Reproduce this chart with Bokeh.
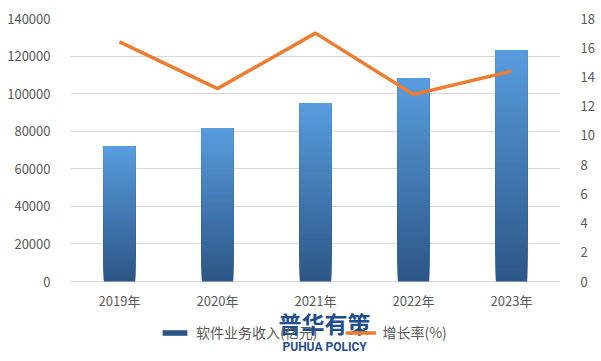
from bokeh.plotting import figure
from bokeh.models import (Range1d, LinearAxis, Legend, LegendItem, Label, FixedTicker,
                          ColumnDataSource, NumeralTickFormatter)
from bokeh.embed import file_html
from bokeh.resources import INLINE

years = ["2019年", "2020年", "2021年", "2022年", "2023年"]
revenue = [71768, 81616, 94994, 108126, 123258]
growth = [16.4, 13.2, 17.0, 12.8, 14.4]
left_ticks = [0, 20000, 40000, 60000, 80000, 100000, 120000, 140000]
right_ticks = [0, 2, 4, 6, 8, 10, 12, 14, 16, 18]

FONT = "Noto Sans CJK SC"
TICK_COLOR = "#595959"

# layout: plot body 263px tall for the value span, 72px of room below the zero line
BODY_PX = 263
BELOW_PX = 72
lmax = left_ticks[-1]
rmax = right_ticks[-1]

p = figure(frame_width=490, frame_height=BODY_PX + BELOW_PX, x_range=years,
           y_range=Range1d(-lmax * BELOW_PX / BODY_PX, lmax),
           x_axis_location=None,
           output_backend="svg", toolbar_location=None,
           min_border_left=70, min_border_right=41, min_border_top=18, min_border_bottom=8)
p.extra_y_ranges = {"rate": Range1d(-rmax * BELOW_PX / BODY_PX, rmax)}
p.outline_line_color = None
p.background_fill_color = "white"
p.border_fill_color = "white"

# gradient bars: overlapping slices, each from its start up to the bar top,
# drawn bottom-first so each later (lighter) slice covers the one beneath
N = 90
top_rgb = (88, 156, 222)
bot_rgb = (44, 86, 134)
xs, bots, tops, cols = [], [], [], []
for i in range(N):
    f = i / (N - 1)
    r = round(bot_rgb[0] + (top_rgb[0] - bot_rgb[0]) * f)
    g = round(bot_rgb[1] + (top_rgb[1] - bot_rgb[1]) * f)
    b = round(bot_rgb[2] + (top_rgb[2] - bot_rgb[2]) * f)
    for y, v in zip(years, revenue):
        xs.append(y)
        bots.append(v * i / N)
        tops.append(v)
        cols.append("#%02x%02x%02x" % (r, g, b))
src = ColumnDataSource(dict(x=xs, bottom=bots, top=tops, color=cols))
bars = p.vbar(x="x", bottom="bottom", top="top", width=0.32, fill_color="color",
              line_color=None, source=src)

line = p.line(years, growth, line_color="#ED7D31", line_width=3.5, y_range_name="rate")

# category labels under the zero line
p.text(x=years, y=[0] * len(years), text=years, y_offset=19,
       text_align="center", text_baseline="middle",
       text_font={"value": FONT}, text_font_size="13px", text_color=TICK_COLOR)

# axes
p.yaxis.ticker = FixedTicker(ticks=left_ticks)
p.yaxis.formatter = NumeralTickFormatter(format="0")
p.yaxis.axis_line_color = None
p.yaxis.major_tick_line_color = None
p.yaxis.minor_tick_line_color = None
p.yaxis.major_label_text_color = TICK_COLOR
p.yaxis.major_label_text_font = FONT
p.yaxis.major_label_text_font_size = "13px"
p.yaxis.major_label_standoff = 14

right = LinearAxis(y_range_name="rate", ticker=FixedTicker(ticks=right_ticks))
right.axis_line_color = None
right.major_tick_line_color = None
right.minor_tick_line_color = None
right.major_label_text_color = TICK_COLOR
right.major_label_text_font = FONT
right.major_label_text_font_size = "13px"
right.major_label_standoff = 14
p.add_layout(right, "right")

p.xgrid.grid_line_color = None
p.ygrid.grid_line_color = "#D9D9D9"

legend = Legend(items=[LegendItem(label="软件业务收入(亿元)", renderers=[bars]),
                       LegendItem(label="增长率(%)", renderers=[line])],
                orientation="horizontal", location=(89, 11),
                label_text_font=FONT, label_text_font_size="14px",
                label_text_color=TICK_COLOR, border_line_color=None,
                background_fill_alpha=0, glyph_width=31, glyph_height=7,
                label_standoff=6, spacing=28, margin=0, padding=0)
p.add_layout(legend, "center")

# watermark
p.add_layout(Label(x=208, y=14, x_units="screen", y_units="screen", text="普华有策",
                   text_font=FONT, text_font_size="23px", text_font_style="bold",
                   text_color="#1F4E8C", level="overlay"))
p.add_layout(Label(x=212, y=0, x_units="screen", y_units="screen", text="PUHUA POLICY",
                   text_font="Roboto", text_font_size="12px", text_font_style="bold",
                   text_color="#1F4E8C", level="overlay"))

open("out.html", "w").write(file_html(p, INLINE))
